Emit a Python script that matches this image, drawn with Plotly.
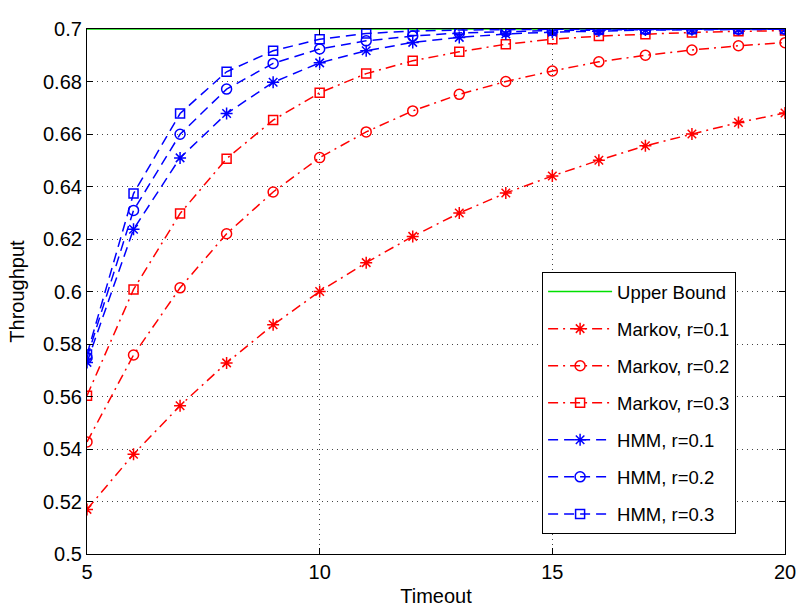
import plotly.graph_objects as go

# Timeout values on the x axis
timeouts = list(range(5, 21))

# Throughput bound
upper_bound = [0.7] * len(timeouts)

# Markov model throughput
markov_r01 = [0.517, 0.538, 0.5565, 0.5728, 0.5873, 0.600, 0.611, 0.621,
              0.6299, 0.6375, 0.644, 0.650, 0.6555, 0.660, 0.6644, 0.668]
markov_r02 = [0.5427, 0.5758, 0.6014, 0.622, 0.6379, 0.651, 0.6608, 0.6688,
              0.6751, 0.680, 0.684, 0.6875, 0.690, 0.692, 0.6936, 0.6948]
markov_r03 = [0.5603, 0.6008, 0.6297, 0.6506, 0.6653, 0.6757, 0.683, 0.6879,
              0.6913, 0.6942, 0.6961, 0.6973, 0.698, 0.6987, 0.6991, 0.6994]

# HMM throughput
hmm_r01 = [0.5730, 0.6237, 0.6509, 0.6678, 0.6797, 0.6871, 0.6917, 0.6949,
           0.6968, 0.6981, 0.6988, 0.6993, 0.6996, 0.6997, 0.6998, 0.6999]
hmm_r02 = [0.5748, 0.6309, 0.6599, 0.6771, 0.6869, 0.6924, 0.6955, 0.6973,
           0.6985, 0.6990, 0.6994, 0.6996, 0.6998, 0.6999, 0.6999, 0.6999]
hmm_r03 = [0.5760, 0.6373, 0.6678, 0.6837, 0.6917, 0.6961, 0.6983, 0.6992,
           0.6996, 0.6998, 0.6999, 0.6999, 0.7000, 0.7000, 0.7000, 0.7000]

y_ticks = [0.5, 0.52, 0.54, 0.56, 0.58, 0.6, 0.62, 0.64, 0.66, 0.68, 0.7]
x_ticks = [5, 10, 15, 20]

FONT = "Liberation Sans, Arial, Helvetica, sans-serif"
RED = "#ff0000"
BLUE = "#0000ff"
GREEN = "#00e000"
DASHDOT = "10px,5px,2px,5px"
DASHED = "10px,6px"

series = [
    ("Upper Bound", upper_bound, GREEN, "solid", None, 0),
    ("Markov, r=0.1", markov_r01, RED, DASHDOT, "asterisk-open", 10),
    ("Markov, r=0.2", markov_r02, RED, DASHDOT, "circle-open", 10),
    ("Markov, r=0.3", markov_r03, RED, DASHDOT, "square-open", 9),
    ("HMM, r=0.1", hmm_r01, BLUE, DASHED, "asterisk-open", 10),
    ("HMM, r=0.2", hmm_r02, BLUE, DASHED, "circle-open", 10),
    ("HMM, r=0.3", hmm_r03, BLUE, DASHED, "square-open", 9),
]

fig = go.Figure()
for i, (name, vals, color, dash, symbol, size) in enumerate(series):
    mode = "lines" if symbol is None else "lines+markers"
    fig.add_trace(go.Scatter(
        x=timeouts, y=vals, name=name, mode=mode,
        legendgroup=f"g{i}",
        line=dict(color=color, width=1.5, dash=dash),
        marker=dict(symbol=symbol, size=size, color=color,
                    line=dict(color=color, width=1.5)) if symbol else None,
        cliponaxis=False if i == 0 else True,
    ))

axis_common = dict(
    showline=True, linecolor="black", linewidth=1.2, mirror="ticks",
    ticks="inside", ticklen=6, tickcolor="black", tickwidth=1,
    showgrid=True, gridcolor="#444444", gridwidth=1, griddash="1px,4px",
    zeroline=False, automargin=False,
    tickfont=dict(family=FONT, size=20, color="black"),
    title_font=dict(family=FONT, size=20, color="black"),
)

fig.update_xaxes(range=[5, 20], tickvals=x_ticks, title_text="Timeout",
                 title_standoff=6, **axis_common)
fig.update_yaxes(range=[0.5, 0.7], tickvals=y_ticks,
                 ticktext=[f"{v:g}" for v in y_ticks],
                 title_text="Throughput", title_standoff=12, **axis_common)

fig.update_layout(
    width=797, height=608,
    margin=dict(l=87, r=12, t=29, b=54),
    paper_bgcolor="white", plot_bgcolor="white",
    font=dict(family=FONT, color="black"),
    showlegend=True,
    legend=dict(
        x=0.652, y=0.537, xanchor="left", yanchor="top",
        bgcolor="white", bordercolor="black", borderwidth=1,
        font=dict(size=18.5, color="black", family=FONT),
        traceorder="grouped", tracegroupgap=10,
        itemwidth=64, entrywidth=215,
    ),
)

fig.write_html("out.html")
